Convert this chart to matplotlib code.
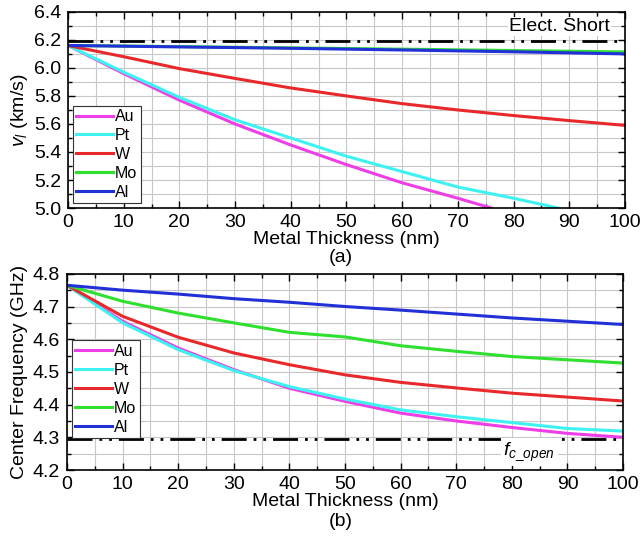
import matplotlib
matplotlib.use("Agg")
import matplotlib.pyplot as plt
from matplotlib.ticker import MultipleLocator

plt.rcParams['font.family'] = ['Liberation Sans', 'DejaVu Sans']
plt.rcParams['mathtext.fontset'] = 'custom'
plt.rcParams['mathtext.rm'] = 'Liberation Sans'
plt.rcParams['mathtext.it'] = 'Liberation Sans:italic'

metals = ['Au', 'Pt', 'W', 'Mo', 'Al']
colors = ['#ee3ee8', '#3ff2f2', '#e8282a', '#2fe02f', '#2230d8']

# (a) velocity vs thickness
va_x = {
    'Au': [0, 10, 20, 30, 40, 50, 60, 70, 76],
    'Pt': [0, 10, 20, 30, 40, 50, 60, 70, 80, 88],
    'W':  [0, 10, 20, 30, 40, 50, 60, 70, 80, 90, 100],
    'Mo': [0, 20, 40, 60, 80, 100],
    'Al': [0, 20, 40, 60, 80, 100],
}
va_y = {
    'Au': [6.16, 5.96, 5.77, 5.60, 5.45, 5.31, 5.18, 5.07, 5.00],
    'Pt': [6.16, 5.97, 5.79, 5.63, 5.50, 5.37, 5.26, 5.15, 5.07, 5.00],
    'W':  [6.16, 6.08, 5.995, 5.925, 5.857, 5.80, 5.745, 5.70, 5.66, 5.624, 5.59],
    'Mo': [6.16, 6.152, 6.143, 6.134, 6.124, 6.114],
    'Al': [6.16, 6.15, 6.14, 6.128, 6.115, 6.10],
}
short_v = 6.19

# (b) center frequency vs thickness
fb_x = [0, 10, 20, 30, 40, 50, 60, 70, 80, 90, 100]
fb_y = {
    'Au': [4.765, 4.655, 4.573, 4.507, 4.450, 4.410, 4.374, 4.350, 4.330, 4.312, 4.300],
    'Pt': [4.765, 4.650, 4.568, 4.504, 4.455, 4.417, 4.384, 4.363, 4.345, 4.327, 4.319],
    'W':  [4.765, 4.670, 4.606, 4.558, 4.522, 4.491, 4.468, 4.451, 4.435, 4.423, 4.411],
    'Mo': [4.765, 4.716, 4.680, 4.650, 4.621, 4.607, 4.580, 4.563, 4.547, 4.537, 4.527],
    'Al': [4.765, 4.750, 4.738, 4.724, 4.713, 4.700, 4.689, 4.677, 4.665, 4.655, 4.645],
}
fc_open = 4.295

fig = plt.figure(figsize=(6.41, 5.39), dpi=100)
ax1 = fig.add_axes([0.106, 0.614, 0.869, 0.364])
ax2 = fig.add_axes([0.1045, 0.128, 0.8675, 0.364])

dash = (0, (9, 2.5, 1, 2.5, 1, 2.5))
fs = 14
lfs = 11.5

def style(ax, ymaj, ymin):
    ax.set_xlim(0, 100)
    ax.xaxis.set_major_locator(MultipleLocator(10))
    ax.xaxis.set_minor_locator(MultipleLocator(5))
    ax.yaxis.set_major_locator(MultipleLocator(ymaj))
    ax.yaxis.set_minor_locator(MultipleLocator(ymin))
    ax.grid(True, which='both', color='#c8c8c8', lw=0.8)
    ax.set_axisbelow(True)
    ax.tick_params(which='both', direction='in', top=True, right=True, labelsize=fs)
    ax.tick_params(axis='x', pad=4)
    ax.tick_params(axis='y', pad=5)
    ax.tick_params(which='major', length=5, width=1)
    ax.tick_params(which='minor', length=3, width=1)
    for s in ax.spines.values():
        s.set_linewidth(1.2)

for m, c in zip(metals, colors):
    ax1.plot(va_x[m], va_y[m], color=c, lw=2.2, label=m)
ax1.axhline(short_v, color='black', lw=2, ls=dash)
ax1.set_ylim(5.0, 6.4)
style(ax1, 0.2, 0.1)
ax1.set_ylabel(r'$v_l$ (km/s)', fontsize=fs, labelpad=3)
ax1.set_xlabel('Metal Thickness (nm)', fontsize=fs, labelpad=0)
fig.text(0.532, 1 - 258 / 539, '(a)', ha='center', va='center', fontsize=fs)
ax1.text(97.3, 6.295, 'Elect. Short', ha='right', va='center', fontsize=fs,
         bbox=dict(facecolor='white', edgecolor='none', pad=1))
leg1 = ax1.legend(loc='lower left', fontsize=lfs, frameon=True, fancybox=False,
                  edgecolor='#333333', framealpha=1, handlelength=2.3, handletextpad=0.15,
                  borderpad=0.2, labelspacing=0.25, borderaxespad=0.3)
leg1.get_frame().set_linewidth(0.8)

for m, c in zip(metals, colors):
    ax2.plot(fb_x, fb_y[m], color=c, lw=2.2, label=m)
ax2.axhline(fc_open, color='black', lw=2, ls=dash)
ax2.set_ylim(4.2, 4.8)
style(ax2, 0.1, 0.05)
ax2.set_ylabel('Center Frequency (GHz)', fontsize=fs, labelpad=3)
ax2.set_xlabel('Metal Thickness (nm)', fontsize=fs, labelpad=0)
fig.text(0.532, 1 - 522 / 539, '(b)', ha='center', va='center', fontsize=fs)
ax2.text(78.5, 4.255, r'$f_{c\_open}$', ha='left', va='center', fontsize=fs,
         bbox=dict(facecolor='white', edgecolor='none', pad=2))
leg2 = ax2.legend(loc='upper left', bbox_to_anchor=(0.0, 0.685), fontsize=lfs, frameon=True,
                  fancybox=False, edgecolor='#333333', framealpha=1, handlelength=2.3,
                  handletextpad=0.15, borderpad=0.2, labelspacing=0.25, borderaxespad=0.3)
leg2.get_frame().set_linewidth(0.8)

fig.savefig('out.png', dpi=100)
